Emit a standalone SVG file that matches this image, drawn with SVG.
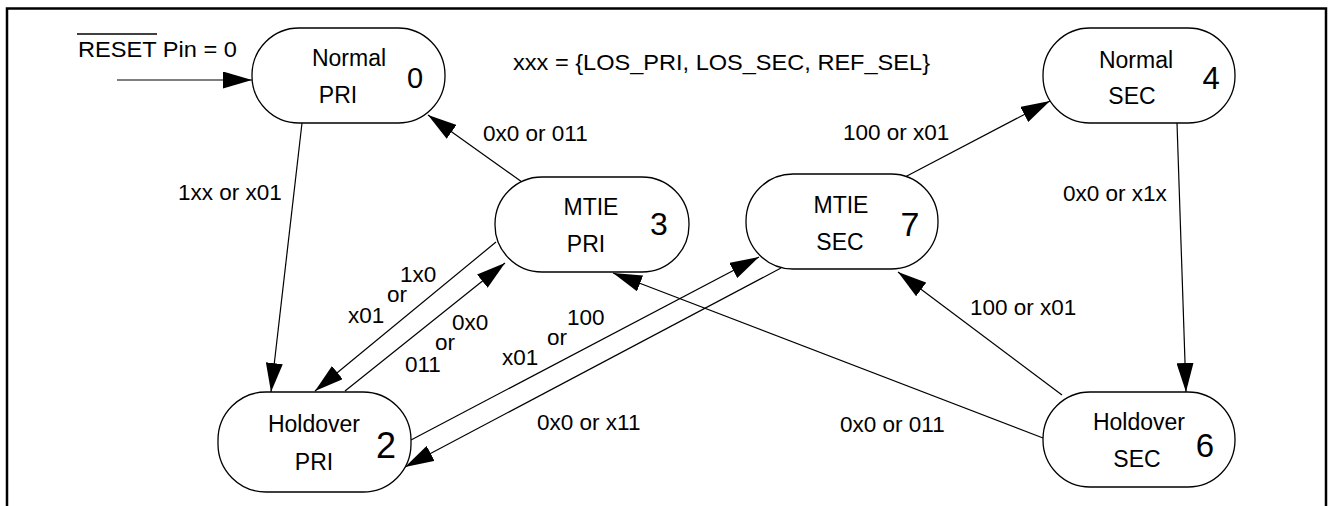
<svg xmlns="http://www.w3.org/2000/svg" width="1331" height="506" viewBox="0 0 1331 506">
<defs>
<style>
.node rect{fill:#fff;stroke:#000;stroke-width:1.3}
.t{font-family:"Liberation Sans",Arial,sans-serif;font-size:23px;fill:#000;text-anchor:middle}
.d{font-family:"Liberation Sans",Arial,sans-serif;fill:#000;text-anchor:middle}
.lbl{font-family:"Liberation Sans",Arial,sans-serif;font-size:22.5px;fill:#000}
.e{stroke:#000;stroke-width:1.2;fill:none}
</style>
<marker id="ah" markerWidth="29" markerHeight="17" refX="29" refY="8.5" orient="auto" markerUnits="userSpaceOnUse">
<path d="M0,0 L29,8.5 L0,17 z" fill="#000"/>
</marker>
</defs>
<rect x="0" y="0" width="1331" height="506" fill="#fff"/>
<path d="M7,506 V8.5 H1326 V506" fill="none" stroke="#000" stroke-width="2.5"/>

<g id="connectors">
<line class="e" x1="117" y1="80" x2="252" y2="80" stroke-width="2" marker-end="url(#ah)"/>
<line class="e" x1="302" y1="123" x2="271" y2="392" marker-end="url(#ah)"/>
<line class="e" x1="522" y1="182" x2="428" y2="115" marker-end="url(#ah)"/>
<line class="e" x1="905" y1="177" x2="1050" y2="101" marker-end="url(#ah)"/>
<line class="e" x1="1177" y1="123" x2="1186" y2="392" marker-end="url(#ah)"/>
<line class="e" x1="496" y1="242" x2="315" y2="391" marker-end="url(#ah)"/>
<line class="e" x1="345" y1="391" x2="505" y2="263" marker-end="url(#ah)"/>
<line class="e" x1="411" y1="440" x2="759" y2="257" marker-end="url(#ah)"/>
<line class="e" x1="781" y1="268" x2="405" y2="467" marker-end="url(#ah)"/>
<line class="e" x1="1043" y1="438" x2="613" y2="273" marker-end="url(#ah)"/>
<line class="e" x1="1062" y1="395" x2="898" y2="272" marker-end="url(#ah)"/>
</g>

<g id="labels">
<text class="lbl" x="78" y="56.7" textLength="159" lengthAdjust="spacingAndGlyphs">RESET Pin = 0</text>
<line x1="77" y1="34" x2="157" y2="34" stroke="#000" stroke-width="1.5"/>
<text class="lbl" x="513" y="70" font-size="23" textLength="417" lengthAdjust="spacingAndGlyphs">xxx = {LOS_PRI, LOS_SEC, REF_SEL}</text>
<text class="lbl" x="178" y="200">1xx or x01</text>
<text class="lbl" x="483" y="141">0x0 or 011</text>
<text class="lbl" x="843" y="140">100 or x01</text>
<text class="lbl" x="1063" y="201">0x0 or x1x</text>
<text class="lbl" x="400" y="282">1x0</text>
<text class="lbl" x="387" y="302">or</text>
<text class="lbl" x="348" y="323">x01</text>
<text class="lbl" x="452" y="330">0x0</text>
<text class="lbl" x="435" y="350">or</text>
<text class="lbl" x="405" y="372">011</text>
<text class="lbl" x="567" y="325">100</text>
<text class="lbl" x="547" y="345">or</text>
<text class="lbl" x="502" y="365">x01</text>
<text class="lbl" x="537" y="430">0x0 or x11</text>
<text class="lbl" x="840" y="432">0x0 or 011</text>
<text class="lbl" x="970" y="315">100 or x01</text>
</g>

<g id="node0" class="node">
<rect x="252" y="28" width="193" height="95" rx="47" ry="47"/>
<text class="t" x="349" y="66">Normal</text>
<text class="t" x="338" y="103">PRI</text>
<text class="d" x="415" y="87.5" font-size="29">0</text>
</g>
<g id="node4" class="node">
<rect x="1043" y="28" width="192" height="95" rx="47" ry="47"/>
<text class="t" x="1136" y="68">Normal</text>
<text class="t" x="1132" y="104">SEC</text>
<text class="d" x="1211" y="89" font-size="31">4</text>
</g>
<g id="node3" class="node">
<rect x="495" y="177" width="194" height="95" rx="47" ry="47"/>
<text class="t" x="591" y="215">MTIE</text>
<text class="t" x="586" y="252">PRI</text>
<text class="d" x="659" y="235" font-size="32">3</text>
</g>
<g id="node7" class="node">
<rect x="746" y="174" width="192" height="95" rx="47" ry="47"/>
<text class="t" x="841" y="213">MTIE</text>
<text class="t" x="840" y="250">SEC</text>
<text class="d" x="910" y="236" font-size="34">7</text>
</g>
<g id="node2" class="node">
<rect x="218" y="392" width="193" height="100" rx="48" ry="48"/>
<text class="t" x="314" y="432">Holdover</text>
<text class="t" x="314" y="470">PRI</text>
<text class="d" x="386" y="458" font-size="36">2</text>
</g>
<g id="node6" class="node">
<rect x="1043" y="392" width="192" height="95" rx="47" ry="47"/>
<text class="t" x="1139" y="430">Holdover</text>
<text class="t" x="1137" y="467">SEC</text>
<text class="d" x="1205" y="457" font-size="33">6</text>
</g>
</svg>
